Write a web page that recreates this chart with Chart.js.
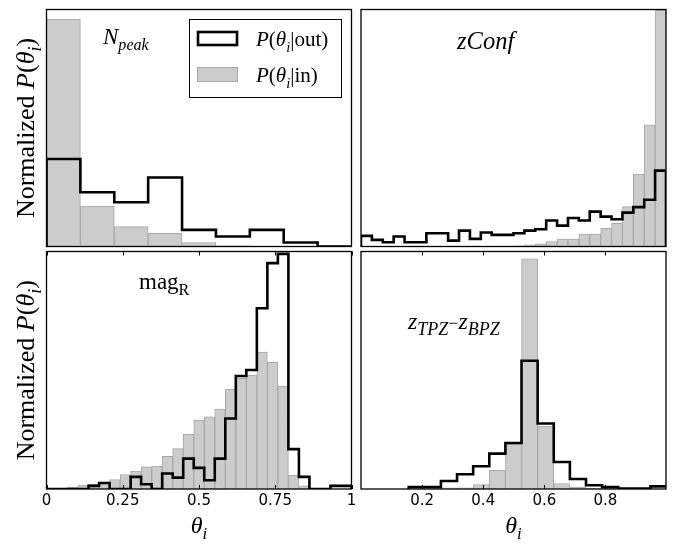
<!DOCTYPE html>
<html>
<head>
<meta charset="utf-8">
<title>P(theta | out) vs P(theta | in)</title>
<script src="https://cdn.jsdelivr.net/npm/chart.js@4.4.1/dist/chart.umd.min.js"></script>
<style>
  html, body { margin: 0; padding: 0; background: #fff; }
  #wrap { position: relative; width: 676px; height: 553px; }
  #wrap canvas { position: absolute; left: 0; top: 0; }
</style>
</head>
<body>
<div id="wrap">
  <canvas id="npeak" width="676" height="553"></canvas>
  <canvas id="zconf" width="676" height="553"></canvas>
  <canvas id="magr" width="676" height="553"></canvas>
  <canvas id="zdiff" width="676" height="553"></canvas>
</div>
<script>
// Values are normalized histogram heights (panel height ~ 100)

// N_peak: 9 bins over [0, 1]
const npeakRange = [0, 1];
const npeakIn = [95.8, 17.1, 8.4, 5.6, 1.7, 0.3, 0, 0, 0];
const npeakOut = [36.9, 22.9, 18.7, 29.1, 7.0, 4.2, 7.0, 1.7, 0];

// zConf: 28 bins over [0, 1]
const zconfRange = [0, 1];
const zconfIn = [0, 0, 0, 0, 0, 0, 0, 0, 0, 0, 0.1, 0.1, 0.2, 0.2,
  0.3, 0.7, 1.1, 2.1, 3.1, 3.1, 5.2, 5.2, 7.7, 9.8, 16.8, 30.6, 51.3, 99.7];
const zconfOut = [4.5, 2.8, 1.8, 4.2, 1.8, 1.8, 5.6, 5.6, 2.5, 6.7, 3.2, 5.9, 4.9, 4.9,
  5.6, 6.7, 7.3, 11.0, 8.8, 12.0, 11.0, 14.7, 12.6, 11.5, 14.3, 16.6, 19.7, 32.0];

// mag_R: 29 bins over [0, 1]
const magrRange = [0, 1];
const magrIn = [0, 0, 0.8, 1.6, 2.0, 2.5, 4.0, 6.1, 7.5, 9.3, 9.6, 13.8, 17.0, 23.0, 29.0,
  30.4, 33.6, 42.1, 46.6, 48.0, 57.6, 53.3, 43.3, 5.8, 1.3, 0.3, 0, 0, 0];
const magrOut = [0, 0, 0, 0, 1.3, 2.5, 0, 0, 5.1, 2.0, 0, 6.5, 4.8, 12.8, 8.9,
  3.7, 12.8, 29.7, 47.6, 50.1, 76.1, 95.1, 99.0, 16.8, 5.1, 0, 0, 1.3, 1.3];
const magrTicks = [0, 0.25, 0.5, 0.75, 1];

// z_TPZ - z_BPZ: 16 bins over [0.156, 1.0]
const zdiffRange = [0.156, 1.0];
const zdiffIn = [0, 0, 0.5, 0.5, 1.9, 7.9, 18.9, 96.9, 26.5, 2.3, 0.8, 0.2, 0, 0, 0, 0];
const zdiffOut = [0.8, 0.8, 3.4, 6.2, 9.6, 14.9, 19.4, 54.0, 27.6, 11.4, 4.2, 1.6, 0.8, 0.2, 0.2, 1.1];
const zdiffTicks = [0.2, 0.4, 0.6, 0.8];

const W = 676;
const H = 553;
const AXIS_H = 40;
const SERIF = "'Liberation Serif', 'Times New Roman', serif";
const SANS = "'DejaVu Sans', sans-serif";
const IN_FILL = '#cccccc';
const IN_EDGE = '#a8a8a8';

// tiny "mathtext" pieces: italic / roman / subscript
const I = (t) => ({ t, it: true });
const R = (t) => ({ t });
const SI = (t) => ({ t, it: true, sub: true });
const SR = (t) => ({ t, sub: true });

const yTitle = [R('Normalized '), I('P'), R('('), I('θ'), SI('i'), R(')')];
const xTitle = [I('θ'), SI('i')];
const outLabel = [I('P'), R('('), I('θ'), SI('i'), R('|out)')];
const inLabel = [I('P'), R('('), I('θ'), SI('i'), R('|in)')];

function partFont(p, size, subScale) {
  const s = (p.sub || p.small) ? size * subScale : size;
  return `${p.it ? 'italic ' : ''}${s}px ${SERIF}`;
}

function mathWidth(ctx, parts, size, subScale) {
  return parts.reduce((w, p) => {
    ctx.font = partFont(p, size, subScale);
    return w + ctx.measureText(p.t).width;
  }, 0);
}

function drawMath(ctx, parts, x, y, size, align, subScale = 0.7) {
  let cx = align === 'center' ? x - mathWidth(ctx, parts, size, subScale) / 2 : x;
  ctx.textAlign = 'left';
  ctx.textBaseline = 'alphabetic';
  ctx.fillStyle = '#000';
  parts.forEach((p) => {
    ctx.font = partFont(p, size, subScale);
    ctx.fillText(p.t, cx, y + (p.sub ? size * 0.27 : 0));
    cx += ctx.measureText(p.t).width;
  });
}

function binEdges(range, n) {
  const w = (range[1] - range[0]) / n;
  return Array.from({ length: n + 1 }, (_, k) => range[0] + k * w);
}

function barPoints(range, vals) {
  const e = binEdges(range, vals.length);
  return vals.map((v, k) => ({ x: (e[k] + e[k + 1]) / 2, y: v > 0 ? v : null }));
}

// outline of a step histogram, as matplotlib's histtype='step'
function stepPoints(range, vals) {
  const e = binEdges(range, vals.length);
  const n = vals.length;
  const pts = [{ x: e[0], y: 0 }];
  vals.forEach((v, k) => pts.push({ x: e[k], y: v }));
  pts.push({ x: e[n], y: vals[n - 1] });
  pts.push({ x: e[n], y: 0 });
  return pts;
}

function decorPlugin(cfg) {
  return {
    id: 'decor',
    afterDraw(chart) {
      const { ctx, chartArea: a } = chart;
      ctx.save();
      // frame
      ctx.strokeStyle = '#000';
      ctx.lineWidth = 1.3;
      ctx.strokeRect(a.left, a.top, a.right - a.left, a.bottom - a.top);
      // inward tick marks, top and bottom
      if (cfg.ticks) {
        const xs = chart.scales.x;
        ctx.lineWidth = 1;
        ctx.beginPath();
        cfg.ticks.forEach((v) => {
          const px = Math.round(xs.getPixelForValue(v)) + 0.5;
          ctx.moveTo(px, a.bottom);
          ctx.lineTo(px, a.bottom - 4);
          ctx.moveTo(px, a.top);
          ctx.lineTo(px, a.top + 4);
        });
        ctx.stroke();
        drawMath(ctx, xTitle, (a.left + a.right) / 2, 533, 24, 'center');
      }
      if (cfg.yTitle) {
        ctx.save();
        ctx.translate(34, (a.top + a.bottom) / 2);
        ctx.rotate(-Math.PI / 2);
        drawMath(ctx, yTitle, 0, 0, 26, 'center');
        ctx.restore();
      }
      drawMath(ctx, cfg.label, cfg.labelAt[0], cfg.labelAt[1], cfg.labelSize || 23, 'left',
        cfg.subScale || 0.7);
      if (cfg.legend) {
        ctx.fillStyle = '#fff';
        ctx.fillRect(189.5, 19.5, 152, 78);
        ctx.strokeStyle = '#000';
        ctx.lineWidth = 1;
        ctx.strokeRect(189.5, 19.5, 152, 78);
        ctx.lineWidth = 2.6;
        ctx.strokeRect(198, 32, 39, 13);
        ctx.fillStyle = IN_FILL;
        ctx.fillRect(197.5, 67.5, 40, 14);
        ctx.strokeStyle = IN_EDGE;
        ctx.lineWidth = 1;
        ctx.strokeRect(197.5, 67.5, 40, 14);
        drawMath(ctx, outLabel, 256, 46, 21, 'left');
        drawMath(ctx, inLabel, 256, 82, 21, 'left');
      }
      ctx.restore();
    },
  };
}

function makePanel(id, range, inVals, outVals, area, cfg) {
  const withAxis = Boolean(cfg.ticks);
  const canvas = document.getElementById(id);
  // eslint-disable-next-line no-undef
  return new Chart(canvas.getContext('2d'), {
    type: 'bar',
    data: {
      datasets: [
        {
          type: 'line',
          label: 'P(θi|out)',
          data: stepPoints(range, outVals),
          borderColor: '#000',
          borderWidth: 2.6,
          borderJoinStyle: 'miter',
          pointRadius: 0,
          stepped: 'before', // horizontal first, then vertical
          fill: false,
          order: 0,
        },
        {
          type: 'bar',
          label: 'P(θi|in)',
          data: barPoints(range, inVals),
          backgroundColor: IN_FILL,
          borderColor: IN_EDGE,
          borderWidth: 1,
          barPercentage: 1,
          categoryPercentage: 1,
          order: 1,
        },
      ],
    },
    options: {
      responsive: false,
      animation: false,
      events: [],
      layout: {
        padding: {
          left: area.left,
          top: area.top,
          right: W - area.right,
          bottom: H - area.bottom - (withAxis ? AXIS_H : 0),
        },
      },
      plugins: {
        legend: { display: false },
        tooltip: { enabled: false },
      },
      scales: {
        x: {
          type: 'linear',
          min: cfg.xmin,
          max: cfg.xmax,
          offset: false,
          display: withAxis,
          grid: { display: false, drawTicks: false },
          border: { display: false },
          afterBuildTicks: (s) => {
            // eslint-disable-next-line no-param-reassign
            s.ticks = (cfg.ticks || []).map((v) => ({ value: v }));
          },
          afterFit: (s) => {
            // eslint-disable-next-line no-param-reassign
            s.height = withAxis ? AXIS_H : 0;
          },
          ticks: {
            autoSkip: false,
            maxRotation: 0,
            padding: 3,
            color: '#000',
            font: { family: SANS, size: 15 },
            callback: (v) => String(v),
          },
        },
        y: { min: 0, max: 100, display: false },
      },
    },
    plugins: [decorPlugin(cfg)],
  });
}

makePanel('npeak', npeakRange, npeakIn, npeakOut,
  { left: 46.5, top: 9.5, right: 351.5, bottom: 246.5 },
  { xmin: 0, xmax: 1, yTitle: true, legend: true, label: [I('N'), SI('peak')], labelAt: [103, 43.5] });

makePanel('zconf', zconfRange, zconfIn, zconfOut,
  { left: 361, top: 9.5, right: 666, bottom: 246.5 },
  { xmin: 0, xmax: 1, label: [I('zConf')], labelAt: [457, 48.5], labelSize: 24.5 });

makePanel('magr', magrRange, magrIn, magrOut,
  { left: 46.5, top: 251.5, right: 351.5, bottom: 489 },
  { xmin: 0, xmax: 1, ticks: magrTicks, yTitle: true, label: [R('mag'), SR('R')], labelAt: [139, 289] });

makePanel('zdiff', zdiffRange, zdiffIn, zdiffOut,
  { left: 361, top: 251.5, right: 666, bottom: 489 },
  {
    xmin: 0,
    xmax: 0.998,
    ticks: zdiffTicks,
    label: [I('z'), SI('TPZ'), { t: '−', small: true }, I('z'), SI('BPZ')],
    labelAt: [408, 328.5],
    labelSize: 24,
    subScale: 0.75,
  });
</script>
</body>
</html>
